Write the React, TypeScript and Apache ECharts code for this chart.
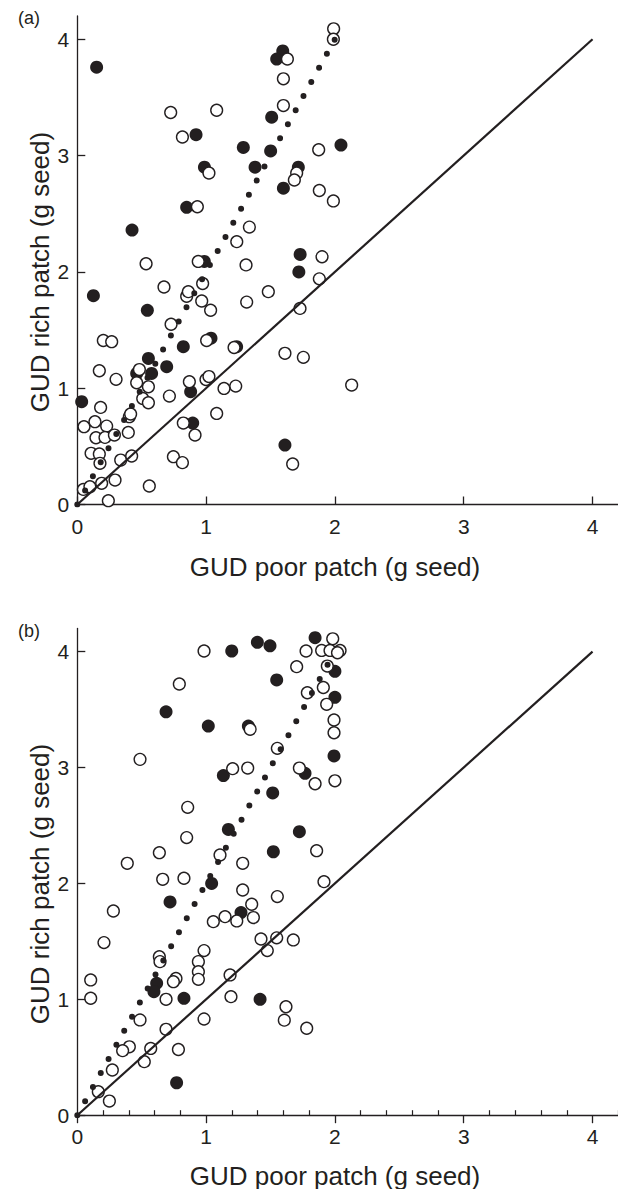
import React, { useEffect, useRef } from "react";
import * as echarts from "echarts";

// ---------- data ----------
const tickValues = [0, 1, 2, 3, 4];
const minorTickValues = [0.2, 0.4, 0.6, 0.8, 1.2, 1.4, 1.6, 1.8, 2.2, 2.4, 2.6, 2.8, 3.2, 3.4, 3.6, 3.8, 4.2];
const identityLine = [[0, 0], [4, 4]];
const doubleLine = [[0, 0], [2, 4]];

const aFilled = [
  [0.15, 3.76], [0.922, 3.18], [0.987, 2.9], [0.849, 2.555], [0.425, 2.36], [1.289, 3.07],
  [1.501, 3.04], [1.509, 3.33], [1.38, 2.9], [1.595, 3.9], [1.548, 3.83], [1.6, 2.72],
  [1.716, 2.9], [2.047, 3.09], [1.73, 2.15], [1.72, 2.0], [0.986, 2.09], [0.125, 1.795],
  [0.544, 1.67], [0.823, 1.357], [1.038, 1.43], [1.237, 1.357], [0.552, 1.256], [0.577, 1.127],
  [0.694, 1.185], [0.461, 1.127], [0.88, 0.97], [0.034, 0.884], [0.896, 0.7], [1.612, 0.511],
];
const aOpen = [
  [0.725, 3.37], [0.816, 3.16], [1.082, 3.39], [1.022, 2.85], [0.932, 2.56], [1.631, 3.83],
  [1.6, 3.66], [1.6, 3.43], [1.99, 4.09], [1.988, 4.0], [1.703, 2.85], [1.685, 2.79],
  [1.874, 3.05], [1.879, 2.7], [1.988, 2.61], [1.336, 2.385], [1.238, 2.26], [1.9, 2.13],
  [0.534, 2.07], [0.939, 2.09], [1.31, 2.06], [1.879, 1.94], [0.673, 1.87], [0.849, 1.79],
  [0.862, 1.83], [0.973, 1.9], [0.966, 1.75], [1.035, 1.67], [1.315, 1.74], [1.483, 1.83],
  [0.728, 1.55], [0.202, 1.41], [0.267, 1.4], [1.004, 1.41], [1.217, 1.35], [1.612, 1.3],
  [1.755, 1.265], [1.729, 1.686], [0.482, 1.16], [0.171, 1.15], [0.301, 1.076], [0.461, 1.047],
  [0.552, 1.012], [0.508, 0.912], [0.552, 0.875], [0.715, 0.932], [0.87, 1.055], [0.999, 1.075],
  [1.022, 1.1], [1.139, 0.998], [1.23, 1.018], [2.13, 1.027], [0.181, 0.835], [0.052, 0.669],
  [0.137, 0.712], [0.228, 0.674], [0.145, 0.574], [0.215, 0.577], [0.288, 0.597], [0.396, 0.62],
  [0.404, 0.755], [0.414, 0.778], [0.823, 0.7], [0.914, 0.597], [1.082, 0.783], [0.107, 0.44],
  [0.171, 0.434], [0.176, 0.354], [0.337, 0.382], [0.422, 0.417], [0.746, 0.411], [0.816, 0.36],
  [1.672, 0.348], [0.047, 0.13], [0.098, 0.153], [0.189, 0.182], [0.293, 0.21], [0.559, 0.159],
  [0.241, 0.033],
];

const bFilled = [
  [1.199, 4.005], [1.398, 4.08], [1.496, 4.05], [1.846, 4.12], [2.0, 3.83], [1.548, 3.755],
  [2.0, 3.605], [0.689, 3.48], [1.017, 3.357], [1.328, 3.357], [1.993, 3.1], [1.768, 2.95],
  [1.134, 2.93], [1.517, 2.78], [1.173, 2.466], [1.724, 2.446], [1.522, 2.273], [1.043, 2.0],
  [0.72, 1.84], [1.271, 1.748], [0.616, 1.138], [0.595, 1.066], [0.828, 1.008], [1.419, 1.0],
  [0.771, 0.28],
];
const bOpen = [
  [0.984, 4.005], [1.983, 4.11], [1.776, 4.005], [1.897, 4.01], [1.962, 4.01], [2.04, 4.01],
  [2.02, 3.99], [1.703, 3.87], [1.941, 3.875], [0.792, 3.72], [1.91, 3.69], [1.786, 3.645],
  [1.936, 3.545], [1.993, 3.41], [1.993, 3.3], [1.342, 3.33], [1.553, 3.165], [0.487, 3.07],
  [1.206, 2.99], [1.323, 2.995], [1.724, 2.995], [1.846, 2.86], [2.0, 2.885], [0.857, 2.656],
  [0.849, 2.395], [0.637, 2.265], [1.108, 2.245], [1.858, 2.282], [0.388, 2.173], [1.284, 2.173],
  [0.663, 2.035], [0.828, 2.044], [1.915, 2.015], [1.284, 1.943], [1.553, 1.886], [0.28, 1.762],
  [1.354, 1.82], [1.147, 1.713], [1.238, 1.676], [1.367, 1.705], [1.056, 1.67], [1.426, 1.52],
  [1.548, 1.53], [1.677, 1.512], [1.475, 1.42], [0.207, 1.489], [0.984, 1.42], [0.637, 1.368],
  [0.642, 1.325], [0.94, 1.325], [0.94, 1.238], [0.94, 1.172], [0.766, 1.18], [0.746, 1.152],
  [0.689, 1.0], [1.186, 1.21], [1.193, 1.023], [1.62, 0.936], [1.607, 0.82], [1.781, 0.75],
  [0.104, 1.167], [0.104, 1.009], [0.487, 0.822], [0.689, 0.741], [0.984, 0.83], [0.404, 0.59],
  [0.57, 0.576], [0.785, 0.567], [0.352, 0.557], [0.52, 0.462], [0.272, 0.39], [0.163, 0.203],
  [0.249, 0.122],
];

const xTitle = "GUD poor patch (g seed)";
const yTitle = "GUD rich patch (g seed)";
const panelLabels = ["(a)", "(b)"];

// ---------- styling ----------
const FONT = '"Liberation Sans", Arial, Helvetica, sans-serif';
const INK = "#231f20";
const W = 618;
const H = 1189;
const GRID_LEFT = 77.3;
const GRID_W = 541;
const grids = [
  { top: 16, height: 488.5 },
  { top: 628.4, height: 486.8 },
];

function xAxisFor(gi: number, inside: boolean) {
  return {
    type: "value",
    gridIndex: gi,
    min: 0,
    max: 4.2,
    position: "bottom",
    axisLine: { show: true, onZero: false, lineStyle: { color: INK, width: 1.3 } },
    axisTick: { show: true, inside, length: 8, customValues: tickValues, lineStyle: { color: INK, width: 1.3 } },
    axisLabel: { show: true, customValues: tickValues, fontSize: 21, color: INK, fontFamily: FONT, margin: 11 },
    splitLine: { show: false },
  };
}
function yAxisFor(gi: number) {
  return {
    type: "value",
    gridIndex: gi,
    min: 0,
    max: 4.2,
    axisLine: { show: true, onZero: false, lineStyle: { color: INK, width: 1.3 } },
    axisTick: { show: true, inside: true, length: 8, customValues: tickValues, lineStyle: { color: INK, width: 1.3 } },
    axisLabel: { show: true, customValues: tickValues, fontSize: 21, color: INK, fontFamily: FONT, margin: 8 },
    splitLine: { show: false },
  };
}

function panelSeries(idx: number, filled: number[][], open: number[][]) {
  return [
    {
      type: "scatter", xAxisIndex: idx, yAxisIndex: idx, data: filled, symbol: "circle", symbolSize: 13,
      itemStyle: { color: INK, opacity: 1 }, z: 2, silent: true,
    },
    {
      type: "scatter", xAxisIndex: idx, yAxisIndex: idx, data: open, symbol: "circle", symbolSize: 11.8,
      itemStyle: { color: "#ffffff", borderColor: INK, borderWidth: 1.4, opacity: 1 }, z: 3, silent: true,
    },
    {
      type: "line", xAxisIndex: idx, yAxisIndex: idx, data: identityLine, symbol: "none", showSymbol: false,
      lineStyle: { color: INK, width: 2.2, opacity: 1 }, z: 4, silent: true,
    },
    {
      type: "line", xAxisIndex: idx, yAxisIndex: idx, data: doubleLine, symbol: "none", showSymbol: false,
      lineStyle: { color: INK, width: 6, type: [0, 16.1], cap: "round", opacity: 1 }, z: 5, silent: true,
    },
  ];
}

export default function App() {
  const ref = useRef<HTMLDivElement>(null);
  useEffect(() => {
    if (!ref.current) return;
    const chart = echarts.init(ref.current, undefined, { renderer: "svg", width: W, height: H });
    const minorAxis = {
      type: "value",
      gridIndex: 1,
      min: 0,
      max: 4.2,
      position: "bottom",
      offset: 0,
      axisLine: { show: false, onZero: false },
      axisTick: { show: true, inside: true, length: 5, customValues: minorTickValues, lineStyle: { color: INK, width: 1.2 } },
      axisLabel: { show: false },
      splitLine: { show: false },
    };
    const option: any = {
      animation: false,
      backgroundColor: "#ffffff",
      grid: grids.map((g) => ({
        left: GRID_LEFT, top: g.top, width: GRID_W, height: g.height, containLabel: false, outerBoundsMode: "none",
      })),
      xAxis: [xAxisFor(0, true), xAxisFor(1, false), minorAxis],
      yAxis: [yAxisFor(0), yAxisFor(1)],
      series: [...panelSeries(0, aFilled, aOpen), ...panelSeries(1, bFilled, bOpen)],
      graphic: [
        { type: "text", x: 18, y: 18, style: { text: panelLabels[0], font: `18px ${FONT}`, fill: INK, align: "left", verticalAlign: "middle" } },
        { type: "text", x: 18, y: 631, style: { text: panelLabels[1], font: `18px ${FONT}`, fill: INK, align: "left", verticalAlign: "middle" } },
        { type: "text", x: 335, y: 567, style: { text: xTitle, font: `26px ${FONT}`, fill: INK, align: "center", verticalAlign: "middle" } },
        { type: "text", x: 335, y: 1188.5, style: { text: xTitle, font: `26px ${FONT}`, fill: INK, align: "center", verticalAlign: "bottom" } },
        { type: "text", x: 40, y: 272, rotation: Math.PI / 2, style: { text: yTitle, font: `26px ${FONT}`, fill: INK, align: "center", verticalAlign: "middle" } },
        { type: "text", x: 40, y: 884, rotation: Math.PI / 2, style: { text: yTitle, font: `26px ${FONT}`, fill: INK, align: "center", verticalAlign: "middle" } },
      ],
    };
    chart.setOption(option);
    return () => chart.dispose();
  }, []);
  return <div ref={ref} style={{ position: "absolute", left: 0, top: 0, width: W, height: H }} />;
}
